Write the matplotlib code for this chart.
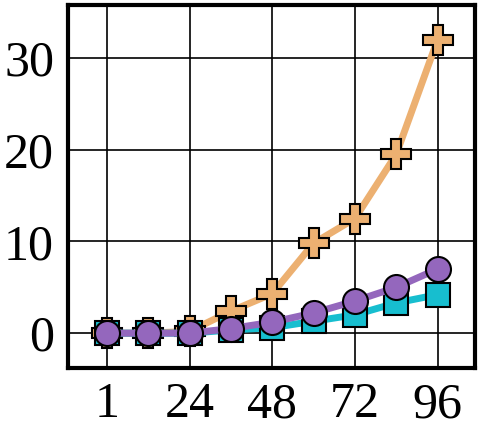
import matplotlib
matplotlib.use("Agg")
import matplotlib.pyplot as plt

# x categories (evenly spaced on the axis)
steps = [1, 12, 24, 36, 48, 60, 72, 84, 96]
tick_labels = ["1", "24", "48", "72", "96"]

plus_vals = [0.0, 0.0, 0.2, 2.4, 4.3, 9.8, 12.5, 19.5, 32.0]
square_vals = [0.0, 0.0, 0.0, 0.35, 0.6, 1.3, 2.0, 3.3, 4.2]
circle_vals = [0.0, 0.0, 0.0, 0.5, 1.2, 2.2, 3.5, 5.0, 7.0]

plt.rcParams['font.family'] = ['Liberation Serif', 'DejaVu Serif']

fig = plt.figure(figsize=(4.82, 4.45), dpi=100)
ax = fig.add_axes([0.141, 0.173, 0.844, 0.816])

idx = list(range(len(steps)))

ax.plot(idx, plus_vals, color='#ECB071', lw=5, marker='P', ms=22,
        mec='black', mew=1.5, zorder=3)
ax.plot(idx, square_vals, color='#17BECF', lw=5, marker='s', ms=17,
        mec='black', mew=1.5, zorder=4)
ax.plot(idx, circle_vals, color='#9467BD', lw=5, marker='o', ms=18,
        mec='black', mew=1.5, zorder=5)

ax.set_xlim(-0.94, 8.9)
ax.set_ylim(-3.8, 35.8)
ax.set_xticks(idx[::2])
ax.set_xticklabels(tick_labels)
ax.set_yticks([0, 10, 20, 30])

ax.grid(True, color='black', lw=1.2)
ax.set_axisbelow(True)
for s in ax.spines.values():
    s.set_linewidth(3)
ax.tick_params(length=0, pad=10, labelsize=36)

fig.savefig("out.png", dpi=100)
